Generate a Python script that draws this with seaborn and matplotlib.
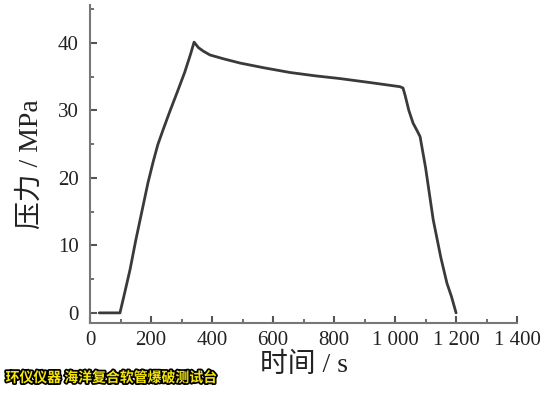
import matplotlib
matplotlib.use("Agg")
import matplotlib.pyplot as plt
import matplotlib.patheffects as pe
from matplotlib.ticker import MultipleLocator, FuncFormatter
import seaborn as sns
import pandas as pd

time_s = [30, 98, 110, 131, 150, 174, 190, 207, 222, 240, 262, 285, 310, 330, 341,
          355, 370, 393, 440, 492, 570, 656, 740, 820, 920, 1016, 1026,
          1033, 1045, 1059, 1072, 1082, 1100, 1125, 1150, 1170, 1185, 1200]
pressure_mpa = [0, 0, 2.3, 6.4, 10.8, 15.9, 19.3, 22.4, 24.9, 27.2, 29.9, 32.6, 35.6, 38.4, 40.1,
                39.3, 38.8, 38.2, 37.6, 37.0, 36.3, 35.6, 35.1, 34.7, 34.1, 33.5, 33.3,
                32.2, 30.0, 28.1, 27.0, 26.1, 21.5, 13.8, 8.2, 4.4, 2.4, 0]

df = pd.DataFrame({"time": time_s, "pressure": pressure_mpa})

sns.set_theme(style="ticks")
plt.rcParams['font.family'] = ['Liberation Serif', 'Noto Sans CJK SC', 'DejaVu Sans']

fig = plt.figure(figsize=(5.56, 4.0), dpi=100)
ax = fig.add_axes([0.162, 0.1925, 0.768, 0.795])

sns.lineplot(data=df, x="time", y="pressure", ax=ax, color="#3a3a3a", linewidth=2.0)

ax.set_xlim(0, 1400)
ax.set_ylim(-1.5, 45.6)
ax.xaxis.set_major_locator(MultipleLocator(200))
ax.xaxis.set_minor_locator(MultipleLocator(100))
ax.yaxis.set_major_locator(MultipleLocator(10))
ax.yaxis.set_minor_locator(MultipleLocator(5))

def fmt(v, pos):
    v = int(round(v))
    if v >= 1000:
        return f"{v // 1000} {v % 1000:03d}"
    return str(v)
ax.xaxis.set_major_formatter(FuncFormatter(fmt))

ax.tick_params(axis="both", which="major", direction="in", length=5, width=1.5,
               color="#555555", labelsize=15, labelcolor="#222222", pad=6,
               bottom=True, left=True, top=False, right=False)
ax.tick_params(axis="both", which="minor", direction="in", length=3, width=1.2,
               color="#555555", bottom=True, left=True, top=False, right=False)
ax.tick_params(axis="y", pad=8)
for side in ["top", "right"]:
    ax.spines[side].set_visible(False)
for side in ["left", "bottom"]:
    ax.spines[side].set_color("#777777")
    ax.spines[side].set_linewidth(1.5)

ax.set_xlabel("时间 / s", fontsize=20, color="#222222", labelpad=2)
ax.set_ylabel("压力 / MPa", fontsize=20, color="#222222", labelpad=10)

fig.text(0.01, 0.045, "环仪仪器 海洋复合软管爆破测试台", fontsize=10, fontweight="bold",
         color="#f5e60a", family=["Noto Sans CJK SC"],
         path_effects=[pe.withStroke(linewidth=2.5, foreground="black")])

fig.savefig("out.png", dpi=100)
